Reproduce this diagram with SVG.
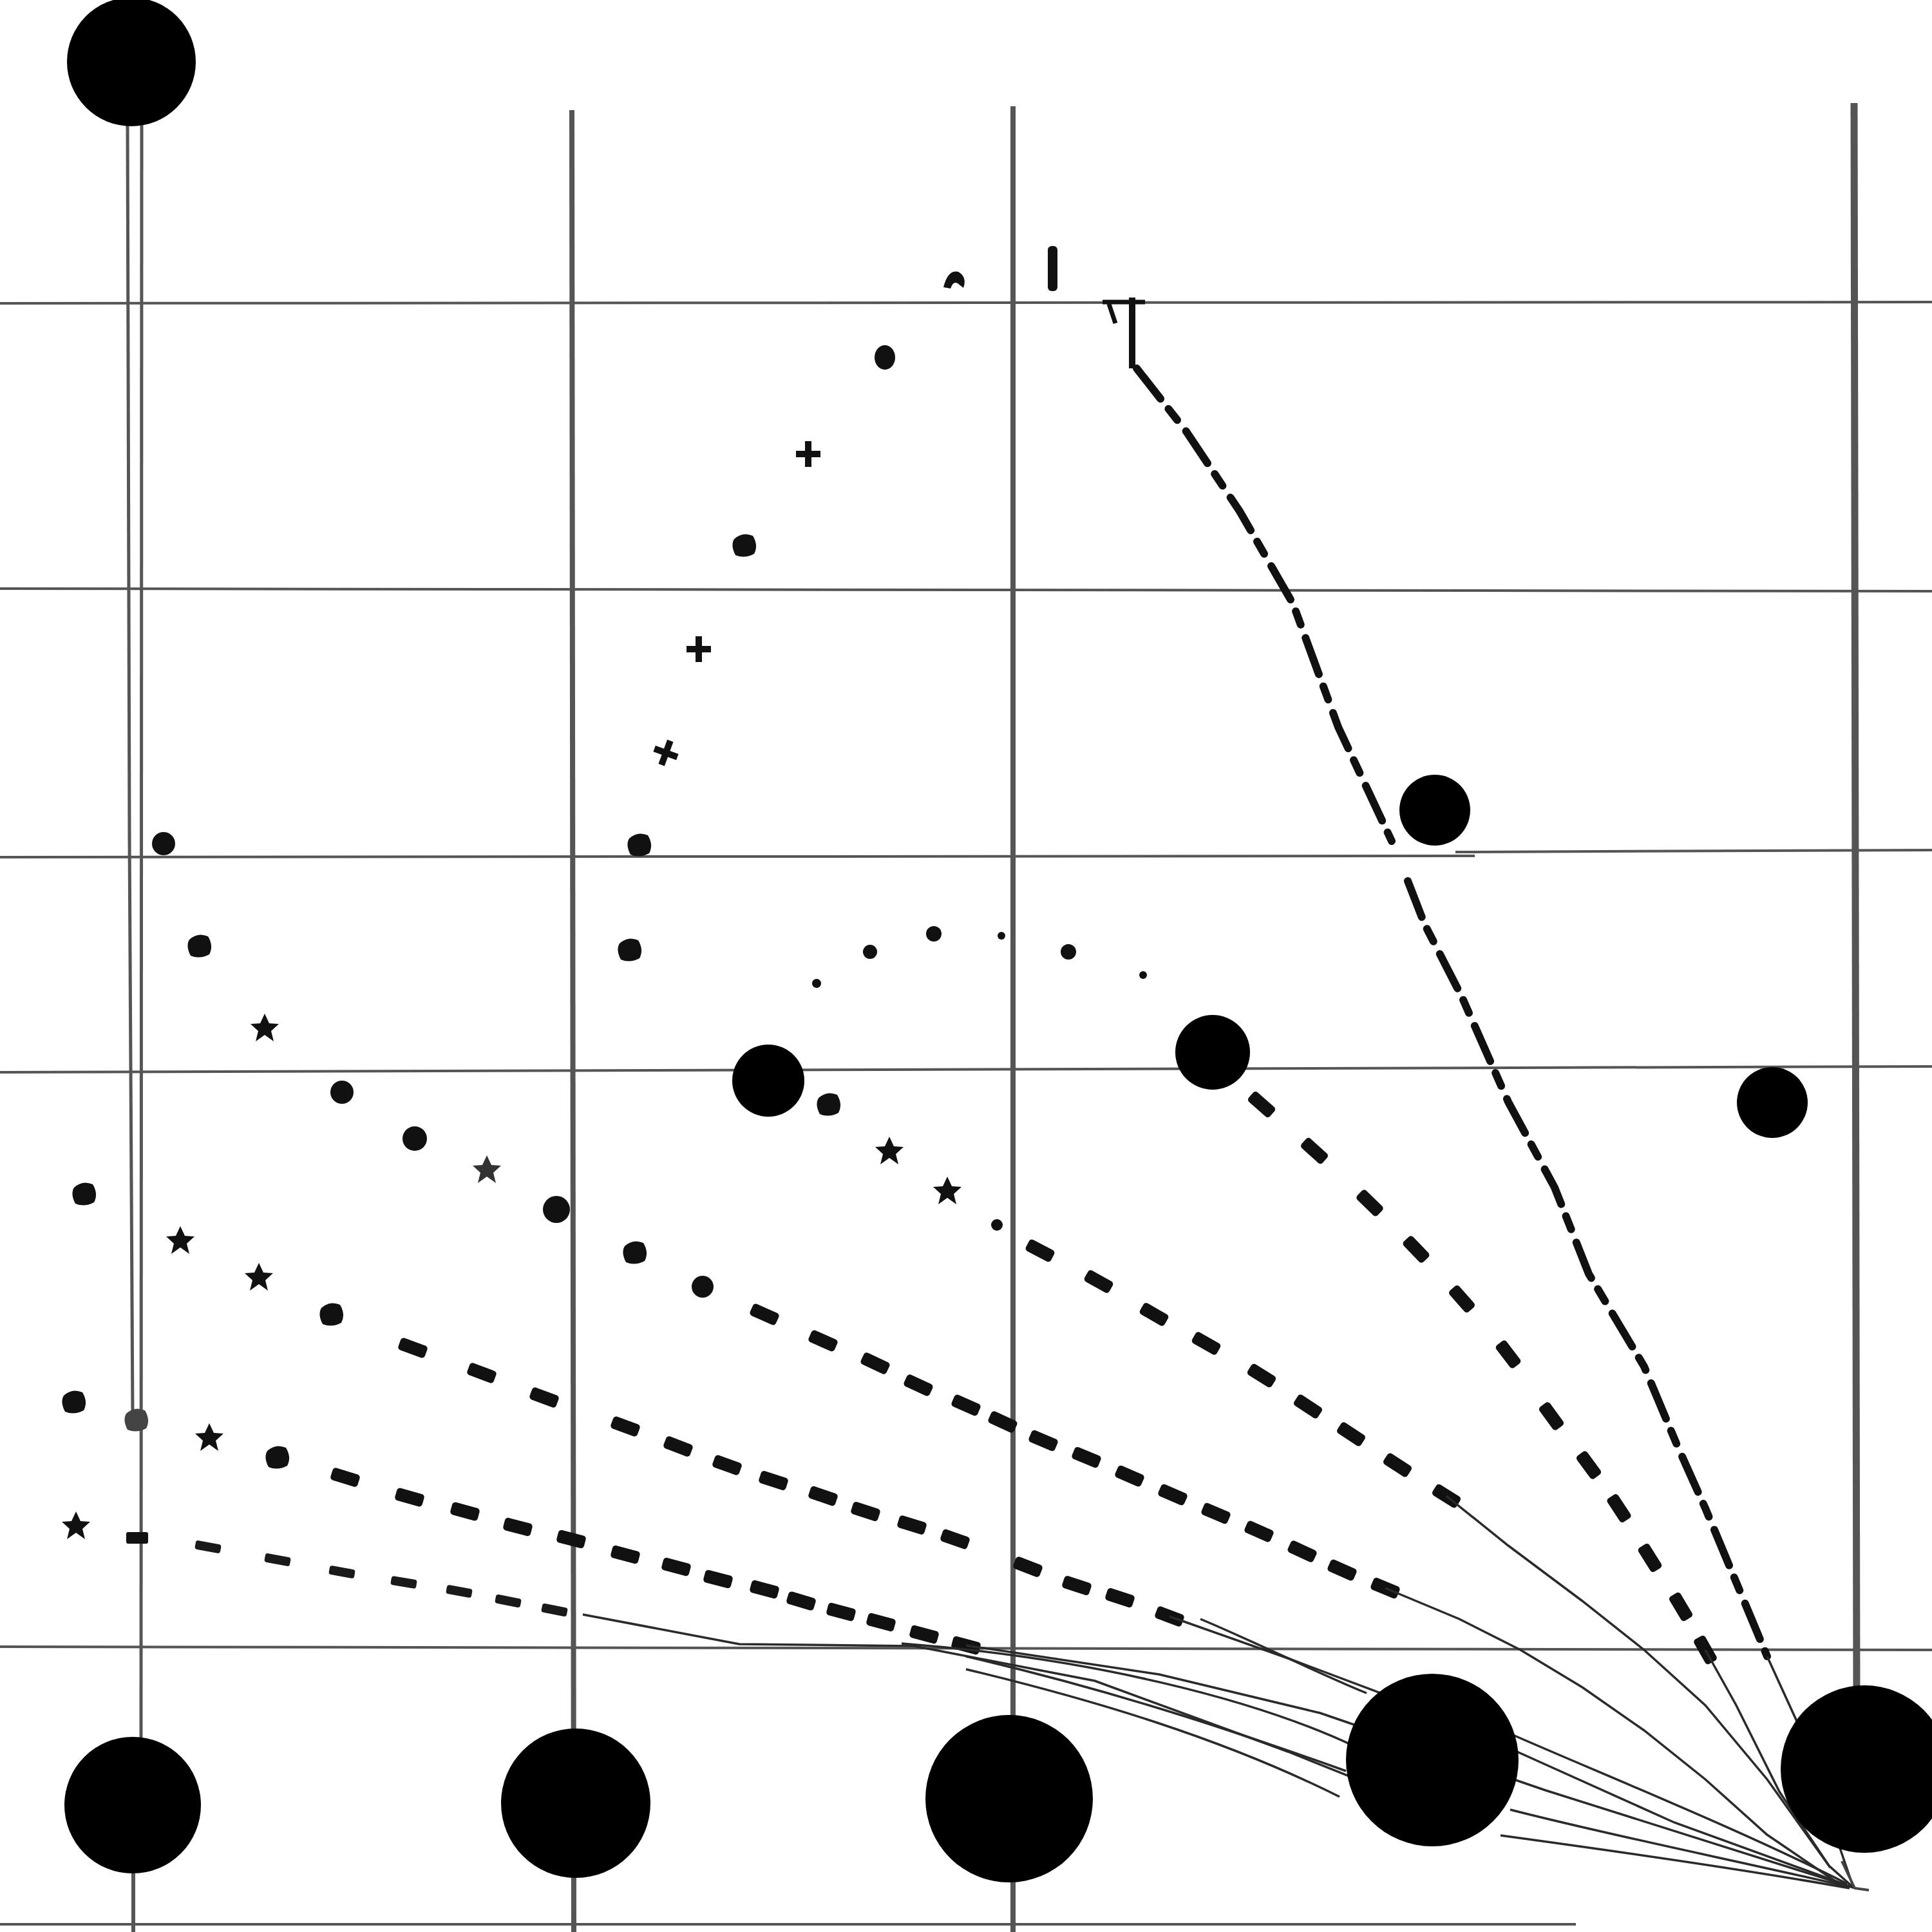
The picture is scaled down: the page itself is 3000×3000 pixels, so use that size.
<svg xmlns="http://www.w3.org/2000/svg" xmlns:xlink="http://www.w3.org/1999/xlink" width="3000" height="3000" viewBox="0 0 3000 3000">
<style>
.node{fill:#000}
.grid{stroke:#555;stroke-width:4;fill:none}
.vg{stroke:#555;fill:none}
.sp{fill:#111}
.thin{fill:none;stroke:#2a2a2a;stroke-width:3.5}
.mk{fill:none;stroke:none}
.rough{fill:none;stroke:#111;stroke-width:12;stroke-dasharray:60 20 22 22;stroke-linecap:round}
</style>
<defs>
<path id="star" d="M0 -22 L7 -7 L22 -6 L10 5 L14 21 L0 11 L-14 21 L-10 5 L-22 -6 L-7 -7 Z"/>
<path id="plus" d="M-5 -20 H5 V-5 H19 V5 H5 V20 H-5 V5 H-19 V-5 H-5 Z"/>
<path id="blob" d="M-16 -10 Q-3 -22 13 -15 Q22 0 15 13 Q0 21 -14 15 Q-22 0 -16 -10 Z"/>
<circle id="tiny" r="6"/>
<marker id="dm" viewBox="-30 -15 60 30" markerWidth="60" markerHeight="30" refX="0" refY="0" orient="auto" markerUnits="userSpaceOnUse">
<rect x="-22" y="-10" width="44" height="20" rx="5" fill="#111"/>
</marker>
<marker id="ds" viewBox="-30 -15 60 30" markerWidth="60" markerHeight="30" refX="0" refY="0" orient="auto" markerUnits="userSpaceOnUse">
<rect x="-20" y="-7" width="40" height="14" rx="4" fill="#1a1a1a"/>
</marker>
</defs>
<rect width="3000" height="3000" fill="#fff"/>

<g id="grid">
<line class="grid" x1="0" y1="471" x2="3000" y2="469"/>
<line class="grid" x1="0" y1="914" x2="3000" y2="918" stroke="#666"/>
<line class="grid" x1="0" y1="1331" x2="2290" y2="1329" stroke="#777"/>
<line class="grid" x1="2260" y1="1323" x2="3000" y2="1320" stroke="#666"/>
<line class="grid" x1="0" y1="1665" x2="3000" y2="1656" stroke="#666"/>
<line class="grid" x1="0" y1="2557" x2="3000" y2="2562" stroke="#333"/>
<line class="grid" x1="0" y1="2988" x2="2447" y2="2988" stroke="#444"/>
<line class="vg" x1="198" y1="190" x2="201" y2="1300" stroke="#222" stroke-width="5"/>
<line class="vg" x1="201" y1="1300" x2="206" y2="2200" stroke="#aaa" stroke-width="5"/>
<line class="vg" x1="220" y1="190" x2="219" y2="2710" stroke="#333" stroke-width="5"/>
<line class="vg" x1="207" y1="2890" x2="207" y2="3000" stroke="#333" stroke-width="6"/>
<line class="vg" x1="888" y1="171" x2="891" y2="3000" stroke="#555" stroke-width="8"/>
<line class="vg" x1="1573" y1="165" x2="1573" y2="3000" stroke="#555" stroke-width="8"/>
<line class="vg" x1="2879" y1="160" x2="2883" y2="2630" stroke="#888" stroke-width="11"/>
</g>

<g id="connectors">
<path d="M1712 469 H1778 M1722 472 L1732 502" stroke="#111" stroke-width="7" fill="none"/>
<path d="M1758 462 V572" stroke="#111" stroke-width="10" fill="none"/>
<polyline class="rough" points="1765,572 1842,670 1925,794 2008,938 2078,1129 2161,1306"/>
<polyline class="rough" points="2186,1368 2212,1435 2270,1548 2342,1711 2414,1844 2467,1978 2553,2122 2605,2246 2648,2342 2696,2457 2744,2572"/>
<polyline class="thin" points="2744,2572 2792,2677 2840,2820 2878,2931"/>

<!-- arc A specks -->
<use class="sp" href="#blob" x="993" y="1312"/>
<use class="sp" href="#plus" x="1034" y="1169" transform="rotate(20 1034 1169)"/>
<use class="sp" href="#plus" x="1085" y="1008"/>
<use class="sp" href="#blob" x="1156" y="847"/>
<use class="sp" href="#plus" x="1255" y="705"/>
<ellipse class="sp" cx="1374" cy="555" rx="16" ry="19"/>
<path class="sp" d="M1465 446 Q1472 418 1488 422 Q1502 430 1496 447 L1487 440 Q1480 436 1476 448 Z"/>
<rect class="sp" x="1627" y="382" width="15" height="70" rx="6"/>

<!-- arc B specks -->
<circle class="sp" cx="254" cy="1310" r="18"/>
<use class="sp" href="#blob" x="310" y="1469"/>
<use class="sp" href="#star" x="411" y="1596"/>
<circle class="sp" cx="531" cy="1696" r="18"/>
<circle class="sp" cx="644" cy="1768" r="19"/>
<use href="#star" x="756" y="1816" fill="#333"/>
<circle class="sp" cx="864" cy="1878" r="21"/>
<use class="sp" href="#blob" x="986" y="1945"/>
<circle class="sp" cx="1091" cy="1998" r="17"/>
<polyline class="mk" marker-start="url(#dm)" marker-mid="url(#dm)" marker-end="url(#dm)" points="1187,2041 1278,2082 1359,2117 1426,2151 1500,2182 1557,2208 1620,2237 1687,2263 1754,2292 1821,2321 1888,2350 1955,2378 2022,2409 2084,2438 2151,2466"/>
<polyline class="thin" points="2151,2466 2266,2514 2361,2562 2457,2620 2553,2687 2648,2763 2744,2849 2860,2928"/>

<!-- arc C specks -->
<use class="sp" href="#blob" x="978" y="1475"/>
<circle class="sp" cx="1268" cy="1527" r="7"/>
<circle class="sp" cx="1351" cy="1478" r="11"/>
<circle class="sp" cx="1450" cy="1450" r="12"/>
<circle class="sp" cx="1555" cy="1453" r="6"/>
<circle class="sp" cx="1659" cy="1478" r="12"/>
<circle class="sp" cx="1775" cy="1514" r="6"/>

<!-- L3 -->
<use class="sp" href="#blob" x="1287" y="1715"/>
<use class="sp" href="#star" x="1381" y="1787"/>
<use class="sp" href="#star" x="1471" y="1849"/>
<circle class="sp" cx="1548" cy="1902" r="9"/>
<polyline class="mk" marker-start="url(#dm)" marker-mid="url(#dm)" marker-end="url(#dm)" points="1615,1942 1706,1990 1792,2041 1873,2086 1959,2136 2031,2184 2098,2227 2170,2275 2246,2323"/>
<polyline class="thin" points="2246,2323 2342,2400 2457,2486 2553,2562 2648,2648 2744,2763 2842,2900"/>

<!-- L4 -->
<polyline class="mk" marker-start="url(#dm)" marker-mid="url(#dm)" marker-end="url(#dm)" points="1959,1715 2041,1787 2127,1868 2199,1940 2270,2017 2342,2103 2409,2199 2467,2275 2514,2342 2562,2419 2610,2495 2648,2562"/>
<polyline class="thin" points="2648,2562 2696,2648 2763,2782 2840,2897 2878,2931"/>

<!-- curve D -->
<use class="sp" href="#blob" x="131" y="1854"/>
<use class="sp" href="#star" x="280" y="1926"/>
<use class="sp" href="#star" x="402" y="1983"/>
<use class="sp" href="#blob" x="515" y="2041"/>
<polyline class="mk" marker-start="url(#dm)" marker-mid="url(#dm)" marker-end="url(#dm)" points="641,2093 748,2132 845,2170 971,2215 1053,2246 1129,2275 1201,2299 1278,2323 1344,2347 1416,2368 1483,2390 1596,2433 1672,2462 1739,2481 1816,2510"/>
<polyline class="thin" points="1816,2510 2000,2575 2200,2650 2400,2740 2600,2830 2878,2931"/>

<!-- curve E -->
<use class="sp" href="#blob" x="115" y="2177"/>
<use href="#blob" x="212" y="2205" fill="#444"/>
<use class="sp" href="#star" x="325" y="2232"/>
<use class="sp" href="#blob" x="431" y="2263"/>
<polyline class="mk" marker-start="url(#dm)" marker-mid="url(#dm)" marker-end="url(#dm)" points="536,2294 636,2325 722,2347 804,2371 887,2390 971,2414 1050,2433 1115,2452 1187,2468 1244,2486 1306,2503 1368,2519 1435,2538 1500,2555"/>
<polyline class="thin" points="1500,2555 1800,2600 2050,2660 2400,2780 2878,2931"/>

<!-- curve F -->
<use class="sp" href="#star" x="118" y="2369"/>
<rect class="sp" x="196" y="2379" width="34" height="18" rx="3"/>
<polyline class="mk" marker-start="url(#ds)" marker-mid="url(#ds)" marker-end="url(#ds)" points="323,2402 431,2422 531,2441 627,2457 713,2471 789,2486 861,2500"/>
<polyline class="thin" points="905,2507 1148,2553 1420,2556 1700,2610 2000,2720 2200,2800"/>

<!-- thin bundle -->
<path class="thin" d="M1400 2552 C1700 2575 1950 2640 2100 2710"/>
<path class="thin" d="M1500 2572 C1750 2630 1950 2700 2090 2750"/>
<path class="thin" d="M1500 2592 C1700 2640 1900 2700 2080 2790" stroke="#555"/>
<path class="thin" d="M1864 2514 C1950 2550 2050 2600 2122 2629"/>
<path class="thin" d="M2340 2690 C2500 2760 2700 2840 2868 2925"/>
<path class="thin" d="M2345 2810 C2500 2850 2700 2890 2872 2930"/>
<path class="thin" d="M2330 2850 C2550 2880 2720 2905 2872 2932" stroke="#666"/>
<path d="M2860 2890 L2880 2932 L2902 2935" fill="none" stroke="#444" stroke-width="4"/>
</g>

<g id="n1"><circle class="node" cx="204" cy="96" r="100"/></g>
<g id="n2"><circle class="node" cx="206" cy="2803" r="106"/></g>
<g id="n3"><circle class="node" cx="894" cy="2800" r="116"/></g>
<g id="n4"><circle class="node" cx="1567" cy="2793" r="130"/></g>
<g id="n5"><circle class="node" cx="2224" cy="2733" r="134"/></g>
<g id="n6"><circle class="node" cx="2895" cy="2747" r="130"/></g>
<g id="n7"><circle class="node" cx="2228" cy="1258" r="55"/></g>
<g id="n8"><circle class="node" cx="1883" cy="1634" r="58"/></g>
<g id="n9"><circle class="node" cx="1193" cy="1678" r="56"/></g>
<g id="n10"><circle class="node" cx="2752" cy="1712" r="55"/></g>
</svg>
